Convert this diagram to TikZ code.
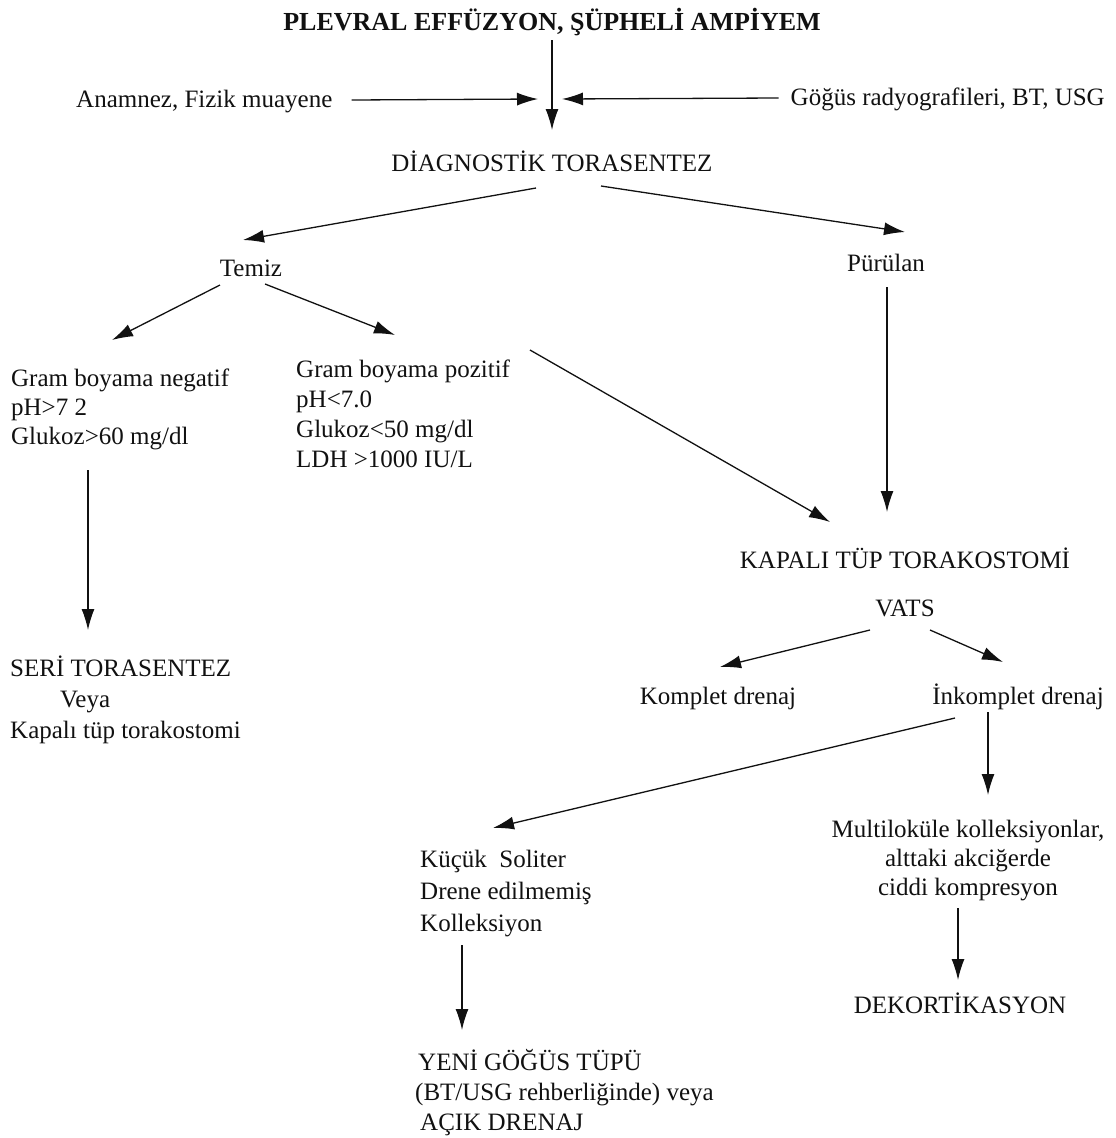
\documentclass[tikz,border=0pt]{standalone}
\usepackage{fontspec}
\setmainfont{Liberation Serif}
\usepackage{xcolor}
\usepackage{tikz}
\usetikzlibrary{arrows.meta,calc}
\definecolor{plInk}{HTML}{111111}
\definecolor{plWhite}{HTML}{FFFFFF}
\tikzset{
  pl-txt/.style={
    inner sep=0pt, text=plInk, align=left,
    font=\fontsize{25}{30}\selectfont
  },
  pl-head/.style={pl-txt, font=\fontsize{26}{30}\selectfont\bfseries},
  pl-flow/.style={-{Latex[length=21pt,width=13pt]}, line width=1.3pt, draw=plInk}
}
\begin{document}
\begin{tikzpicture}[x=1pt,y=-1pt]
\useasboundingbox[fill=plWhite] (0,0) rectangle (1116,1138);

% top of the chart
\node[pl-head, anchor=base] (title) at (552,30)
  {PLEVRAL EFFÜZYON, ŞÜPHELİ AMPİYEM};
\node[pl-txt, anchor=base west] (anam) at (76,107) {Anamnez, Fizik muayene};
\node[pl-txt, anchor=base east] (gogus) at (1105,105)
  {Göğüs radyografileri, BT, USG};
\coordinate (mid) at (552,99);
\node[pl-txt, anchor=base] (diag) at (552,171) {DİAGNOSTİK TORASENTEZ};

\node[pl-txt, anchor=base] (temiz) at (251,276) {Temiz};
\node[pl-txt, anchor=base] (pur) at (886,271) {Pürülan};

% multi-line nodes sit on the baseline of their last line
\node[pl-txt, anchor=base west, font=\fontsize{25}{29}\selectfont] (neg)
  at (11,444) {Gram boyama negatif\\ pH>7 2\\ Glukoz>60 mg/dl};
\node[pl-txt, anchor=base west] (pos) at (296,467)
  {Gram boyama pozitif\\ pH<7.0\\ Glukoz<50 mg/dl\\ LDH >1000 IU/L};
\node[pl-txt, anchor=base west, font=\fontsize{25}{31}\selectfont] (seri)
  at (10,738) {SERİ TORASENTEZ\\ \hspace*{50pt}Veya\\ Kapalı tüp torakostomi};

% right branch
\node[pl-txt, anchor=base] (kapali) at (905,568) {KAPALI TÜP TORAKOSTOMİ};
\node[pl-txt, anchor=base] (vats) at (905,616) {VATS};
\node[pl-txt, anchor=base] (komplet) at (718,704) {Komplet drenaj};
\node[pl-txt, anchor=base] (inkomplet) at (1018,704) {İnkomplet drenaj};
\node[pl-txt, anchor=base, align=center, font=\fontsize{25}{29}\selectfont]
  (multi) at (968,895)
  {Multiloküle kolleksiyonlar,\\ alttaki akciğerde\\ ciddi kompresyon};
\node[pl-txt, anchor=base] (dekort) at (960,1013) {DEKORTİKASYON};
\node[pl-txt, anchor=base west, font=\fontsize{25}{32}\selectfont] (kucuk)
  at (420,931) {Küçük\ \ Soliter\\ Drene edilmemiş\\ Kolleksiyon};
\node[pl-txt, anchor=base west] (yeni) at (415,1130)
  {\hspace*{3pt}YENİ GÖĞÜS TÜPÜ\\ (BT/USG rehberliğinde) veya\\
   \hspace*{5pt}AÇIK DRENAJ};

% connectors
\draw[pl-flow] ($(title.base)+(0,10)$) -- ($(diag.base)+(0,-41)$);
\draw[pl-flow] ($(anam.base east)+(19,-7)$) -- ([xshift=-14pt]mid);
\draw[pl-flow] ($(gogus.base west)+(-12,-7)$) -- ([xshift=10pt]mid);
\draw[pl-flow] ($(diag.base)+(-16,17)$) -- ($(temiz.base)+(-8,-36)$);
\draw[pl-flow] ($(diag.base)+(49,15)$) -- ($(pur.base)+(19,-39)$);
\draw[pl-flow] ($(temiz.base)+(-31,9)$) -- ($(neg.base west)+(101,-104)$);
\draw[pl-flow] ($(temiz.base)+(14,8)$) -- ($(pos.base west)+(99,-132)$);
\draw[pl-flow] ($(pos.base west)+(234,-117)$) -- ($(kapali.base)+(-75,-46)$);
\draw[pl-flow] ($(pur.base)+(1,16)$) -- ($(kapali.base)+(-18,-56)$);
\draw[pl-flow] ($(neg.base west)+(77,26)$) -- ($(seri.base west)+(78,-108)$);
\draw[pl-flow] ($(vats.base)+(-35,14)$) -- ($(komplet.base)+(2,-37)$);
\draw[pl-flow] ($(vats.base)+(25,14)$) -- ($(inkomplet.base)+(-15,-42)$);
\draw[pl-flow] ($(inkomplet.base)+(-63,14)$) -- ($(kucuk.base west)+(73,-103)$);
\draw[pl-flow] ($(inkomplet.base)+(-30,8)$) -- ($(multi.base)+(20,-100)$);
\draw[pl-flow] ($(multi.base)+(-10,13)$) -- ($(dekort.base)+(-2,-33)$);
\draw[pl-flow] ($(kucuk.base west)+(42,14)$) -- ($(yeni.base west)+(47,-100)$);
\end{tikzpicture}
\end{document}
